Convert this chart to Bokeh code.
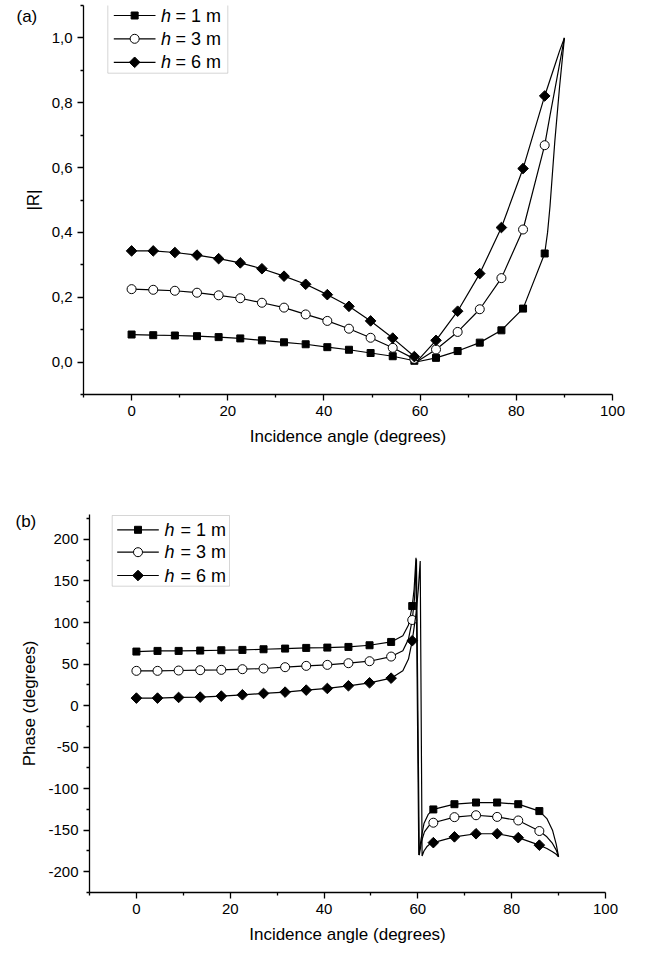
import numpy as np
from bokeh.plotting import figure
from bokeh.models import (Range1d, FixedTicker, CustomJSTickFormatter, Label,
                          BoxAnnotation, Title)
from bokeh.embed import file_html
from bokeh.resources import INLINE

FONT = "Liberation Sans"

# ---------------- data ----------------
marker_angle = [0.0, 4.5, 9.0, 13.6, 18.1, 22.6, 27.1, 31.7, 36.2, 40.7,
                45.2, 49.7, 54.3, 58.8, 63.3, 67.8, 72.4, 76.9, 81.4, 85.9]

# |R| at marker angles
r_h1 = [0.085, 0.083, 0.082, 0.080, 0.077, 0.073, 0.067, 0.061, 0.055, 0.046,
        0.038, 0.028, 0.018, 0.004, 0.013, 0.034, 0.060, 0.098, 0.165, 0.335]
r_h3 = [0.225, 0.223, 0.220, 0.214, 0.206, 0.197, 0.183, 0.168, 0.147, 0.127,
        0.103, 0.075, 0.044, 0.010, 0.039, 0.093, 0.163, 0.259, 0.409, 0.669]
r_h6 = [0.343, 0.343, 0.338, 0.330, 0.319, 0.306, 0.288, 0.265, 0.240, 0.208,
        0.172, 0.127, 0.074, 0.017, 0.067, 0.157, 0.273, 0.415, 0.597, 0.821]

# |R| curve traces (extra points read between markers)
r_curve_h1_x = [0.0, 4.5, 9.0, 13.6, 18.1, 22.6, 27.1, 31.7, 36.2, 40.7, 45.2, 49.7,
                54.3, 58.8, 59.4, 63.3, 67.8, 72.4, 76.9, 81.4, 85.9, 86.5, 87.0,
                87.5, 88.0, 89.0, 90.0]
r_curve_h1_y = [0.085, 0.083, 0.082, 0.080, 0.077, 0.073, 0.067, 0.061, 0.055, 0.046,
                0.038, 0.028, 0.018, 0.004, 0.001, 0.013, 0.034, 0.060, 0.098, 0.165,
                0.335, 0.40, 0.48, 0.58, 0.68, 0.85, 1.0]
r_curve_h3_x = [0.0, 4.5, 9.0, 13.6, 18.1, 22.6, 27.1, 31.7, 36.2, 40.7, 45.2, 49.7,
                54.3, 58.8, 59.4, 63.3, 67.8, 72.4, 76.9, 81.4, 85.9, 87.0, 88.0,
                89.0, 90.0]
r_curve_h3_y = [0.225, 0.223, 0.220, 0.214, 0.206, 0.197, 0.183, 0.168, 0.147, 0.127,
                0.103, 0.075, 0.044, 0.010, 0.002, 0.039, 0.093, 0.163, 0.259, 0.409,
                0.669, 0.76, 0.84, 0.92, 1.0]
r_curve_h6_x = [0.0, 4.5, 9.0, 13.6, 18.1, 22.6, 27.1, 31.7, 36.2, 40.7, 45.2, 49.7,
                54.3, 58.8, 59.4, 63.3, 67.8, 72.4, 76.9, 81.4, 85.9, 87.0, 88.0,
                89.0, 90.0]
r_curve_h6_y = [0.343, 0.343, 0.338, 0.330, 0.319, 0.306, 0.288, 0.265, 0.240, 0.208,
                0.172, 0.127, 0.074, 0.017, 0.003, 0.067, 0.157, 0.273, 0.415, 0.597,
                0.821, 0.87, 0.915, 0.96, 1.0]

# Phase (degrees) at marker angles
ph_h1 = [65.0, 65.8, 65.8, 66.2, 66.6, 67.0, 67.8, 68.6, 69.4, 69.8, 70.6, 72.6,
         76.6, 119.8, -125.0, -118.7, -116.7, -116.7, -118.7, -127.0]
ph_h3 = [41.8, 41.8, 42.2, 42.6, 43.0, 43.8, 44.6, 46.2, 47.8, 49.0, 51.0, 53.4,
         59.0, 103.0, -141.0, -134.3, -132.0, -134.0, -138.3, -151.0]
ph_h6 = [9.0, 9.0, 9.8, 10.2, 11.4, 13.0, 14.6, 16.2, 18.6, 20.6, 23.8, 27.4,
         33.0, 78.0, -165.0, -158.0, -154.3, -154.3, -159.0, -168.0]

# Phase curve traces
ph_curve_h1_x = [0.0, 4.5, 9.0, 13.6, 18.1, 22.6, 27.1, 31.7, 36.2, 40.7, 45.2, 49.7,
                 54.3, 56.8, 58.0, 58.8, 59.2, 59.6, 60.2, 60.7, 61.3, 62.2, 63.3,
                 67.8, 72.4, 76.9, 81.4, 85.9, 87.5, 88.7, 89.5, 90.0]
ph_curve_h1_y = [65.0, 65.8, 65.8, 66.2, 66.6, 67.0, 67.8, 68.6, 69.4, 69.8, 70.6, 72.6,
                 76.6, 84.0, 97.0, 119.8, 140.0, 178.0, -180.0, -160.0, -142.0, -131.0,
                 -125.0, -118.7, -116.7, -116.7, -118.7, -127.0, -136.0, -150.0,
                 -167.0, -182.0]
ph_curve_h3_x = [0.0, 4.5, 9.0, 13.6, 18.1, 22.6, 27.1, 31.7, 36.2, 40.7, 45.2, 49.7,
                 54.3, 56.8, 58.0, 58.8, 59.3, 59.7, 60.3, 60.8, 61.4, 62.3, 63.3,
                 67.8, 72.4, 76.9, 81.4, 85.9, 87.5, 88.7, 89.5, 90.0]
ph_curve_h3_y = [41.8, 41.8, 42.2, 42.6, 43.0, 43.8, 44.6, 46.2, 47.8, 49.0, 51.0, 53.4,
                 59.0, 66.0, 80.0, 103.0, 130.0, 176.0, -180.0, -163.0, -152.0, -145.0,
                 -141.0, -134.3, -132.0, -134.0, -138.3, -151.0, -158.0, -166.0,
                 -174.0, -182.0]
ph_curve_h6_x = [0.0, 4.5, 9.0, 13.6, 18.1, 22.6, 27.1, 31.7, 36.2, 40.7, 45.2, 49.7,
                 54.3, 56.8, 58.0, 58.8, 59.6, 60.1, 60.5, 60.9, 61.3, 61.9, 62.5, 63.3,
                 67.8, 72.4, 76.9, 81.4, 85.9, 87.5, 88.7, 89.5, 90.0]
ph_curve_h6_y = [9.0, 9.0, 9.8, 10.2, 11.4, 13.0, 14.6, 16.2, 18.6, 20.6, 23.8, 27.4,
                 33.0, 42.0, 56.0, 78.0, 110.0, 140.0, 174.0, -181.0, -175.0, -170.0,
                 -167.0, -165.0, -158.0, -154.3, -154.3, -159.0, -168.0, -172.0,
                 -176.0, -179.0, -182.0]

legend_labels = ["= 1 m", "= 3 m", "= 6 m"]
x_major = [0, 20, 40, 60, 80, 100]
x_minor = [-10, 10, 30, 50, 70, 90]
r_major = [0.0, 0.2, 0.4, 0.6, 0.8, 1.0]
r_minor = [-0.1, 0.1, 0.3, 0.5, 0.7, 0.9, 1.1]
ph_major = [-200, -150, -100, -50, 0, 50, 100, 150, 200]
ph_minor = [-225, -175, -125, -75, -25, 25, 75, 125, 175, 225]

MARKERS = [("square", "black", 7, 0.0), ("circle", "white", 9, 0.0),
           ("square", "black", 7.5, np.pi / 4)]


def style(p, xt, xm, yt, ym, xlabel, ylabel, ystand):
    p.grid.visible = False
    p.outline_line_color = None
    p.background_fill_color = "white"
    p.border_fill_color = "white"
    p.xaxis.ticker = FixedTicker(ticks=xt, minor_ticks=xm)
    p.yaxis.ticker = FixedTicker(ticks=yt, minor_ticks=ym)
    for ax in (p.xaxis[0], p.yaxis[0]):
        ax.axis_line_width = 1.3
        ax.axis_line_color = "black"
        ax.major_tick_line_width = 1.3
        ax.minor_tick_line_width = 1.3
        ax.major_tick_line_color = "black"
        ax.minor_tick_line_color = "black"
        ax.major_tick_out = 6
        ax.major_tick_in = 0
        ax.minor_tick_out = 3
        ax.minor_tick_in = 0
        ax.major_label_text_font = FONT
        ax.major_label_text_font_size = "15px"
        ax.major_label_text_color = "black"
        ax.major_label_standoff = 5
        ax.axis_label_text_font = FONT
        ax.axis_label_text_font_size = "17px"
        ax.axis_label_text_font_style = "normal"
        ax.axis_label_text_color = "black"
    p.xaxis.axis_label = xlabel
    p.yaxis.axis_label = ylabel
    p.xaxis.axis_label_standoff = 8
    p.yaxis.axis_label_standoff = ystand


def draw_panel(p, curves, marks, geom, tag):
    """geom: pixel layout of the legend, relative to the frame's top-left corner."""
    x0, x1 = p.x_range.start, p.x_range.end
    y0, y1 = p.y_range.start, p.y_range.end
    fw, fh = p.frame_width, p.frame_height

    def X(px):
        return x0 + px * (x1 - x0) / fw

    def Y(py):
        return y1 - py * (y1 - y0) / fh

    for (cx, cy), my, (mk, fill, size, ang) in zip(curves, marks, MARKERS):
        p.line(cx, cy, line_color="black", line_width=1.2)
        p.scatter(marker_angle, my, marker=mk, size=size, angle=ang,
                  fill_color=fill, line_color="black", line_width=1.0)

    # legend (hand-built so that the diamond marker and italic "h" match)
    p.add_layout(BoxAnnotation(left=X(geom["box"][0]), right=X(geom["box"][1]),
                               top=Y(geom["box"][2]), bottom=Y(geom["box"][3]),
                               fill_color="white", fill_alpha=1.0,
                               line_color="#777777", line_width=1.0))
    gx0, gx1 = geom["glyph"]
    gm = (gx0 + gx1) / 2
    for r, lab, (mk, fill, size, ang) in zip(geom["rows"], legend_labels, MARKERS):
        p.segment(x0=[X(gx0)], y0=[Y(r)], x1=[X(gx1)], y1=[Y(r)],
                  line_color="black", line_width=1.2, level="overlay")
        p.scatter(x=[X(gm)], y=[Y(r)], marker=mk, size=size, angle=ang,
                  fill_color=fill, line_color="black", line_width=1.0, level="overlay")
        p.add_layout(Label(x=X(geom["h"]), y=Y(r), text="h", text_font=FONT,
                           text_font_size="18px", text_font_style="italic",
                           text_baseline="middle", text_align="left",
                           text_color="black"))
        p.add_layout(Label(x=X(geom["lab"]), y=Y(r), text=lab, text_font=FONT,
                           text_font_size="18px", text_baseline="middle",
                           text_align="left", text_color="black"))

    # panel tag "(a)" / "(b)": a title pulled down beside the top of the y axis
    tx, tdrop = geom["tag"]
    p.add_layout(Title(text=tag, align="left", offset=tx, standoff=-2 * tdrop,
                       vertical_align="bottom", text_font=FONT,
                       text_font_size="17px", text_font_style="normal",
                       text_color="black"), "above")


# ---------------- top panel ----------------
p1 = figure(width=646, height=478, frame_width=529, frame_height=389,
            x_range=Range1d(-10, 100), y_range=Range1d(-0.1, 1.1),
            min_border_left=83, min_border_right=34, min_border_top=5,
            min_border_bottom=84, toolbar_location=None, output_backend="svg")
style(p1, x_major, x_minor, r_major, r_minor, "Incidence angle (degrees)", "|R|", 6)
p1.yaxis[0].formatter = CustomJSTickFormatter(code="return tick.toFixed(1).replace('.', ',');")
geom1 = dict(box=(24.3, 144.3, -3.3, 67.7), rows=(10.0, 33.3, 56.8), glyph=(30.3, 72),
             h=77.5, lab=92, tag=(-67, 20))
draw_panel(p1, [(r_curve_h1_x, r_curve_h1_y), (r_curve_h3_x, r_curve_h3_y),
                (r_curve_h6_x, r_curve_h6_y)], [r_h1, r_h3, r_h6], geom1, "(a)")

# ---------------- bottom panel ----------------
p2 = figure(width=646, height=478, frame_width=516, frame_height=378,
            x_range=Range1d(-10, 100), y_range=Range1d(-225, 230),
            min_border_left=89, min_border_right=41, min_border_top=36,
            min_border_bottom=64, toolbar_location=None, output_backend="svg")
style(p2, x_major, x_minor, ph_major, ph_minor, "Incidence angle (degrees)",
      "Phase (degrees)", 6)
p2.yaxis[0].formatter = CustomJSTickFormatter(code="return tick.toString();")
geom2 = dict(box=(22.7, 140, 1, 71.7), rows=(15.3, 37.7, 61.0), glyph=(27.7, 69.3),
             h=75, lab=91, tag=(-74, 16))
draw_panel(p2, [(ph_curve_h1_x, ph_curve_h1_y), (ph_curve_h3_x, ph_curve_h3_y),
                (ph_curve_h6_x, ph_curve_h6_y)], [ph_h1, ph_h3, ph_h6], geom2, "(b)")

open("out.html", "w").write(file_html([p1, p2], INLINE))
